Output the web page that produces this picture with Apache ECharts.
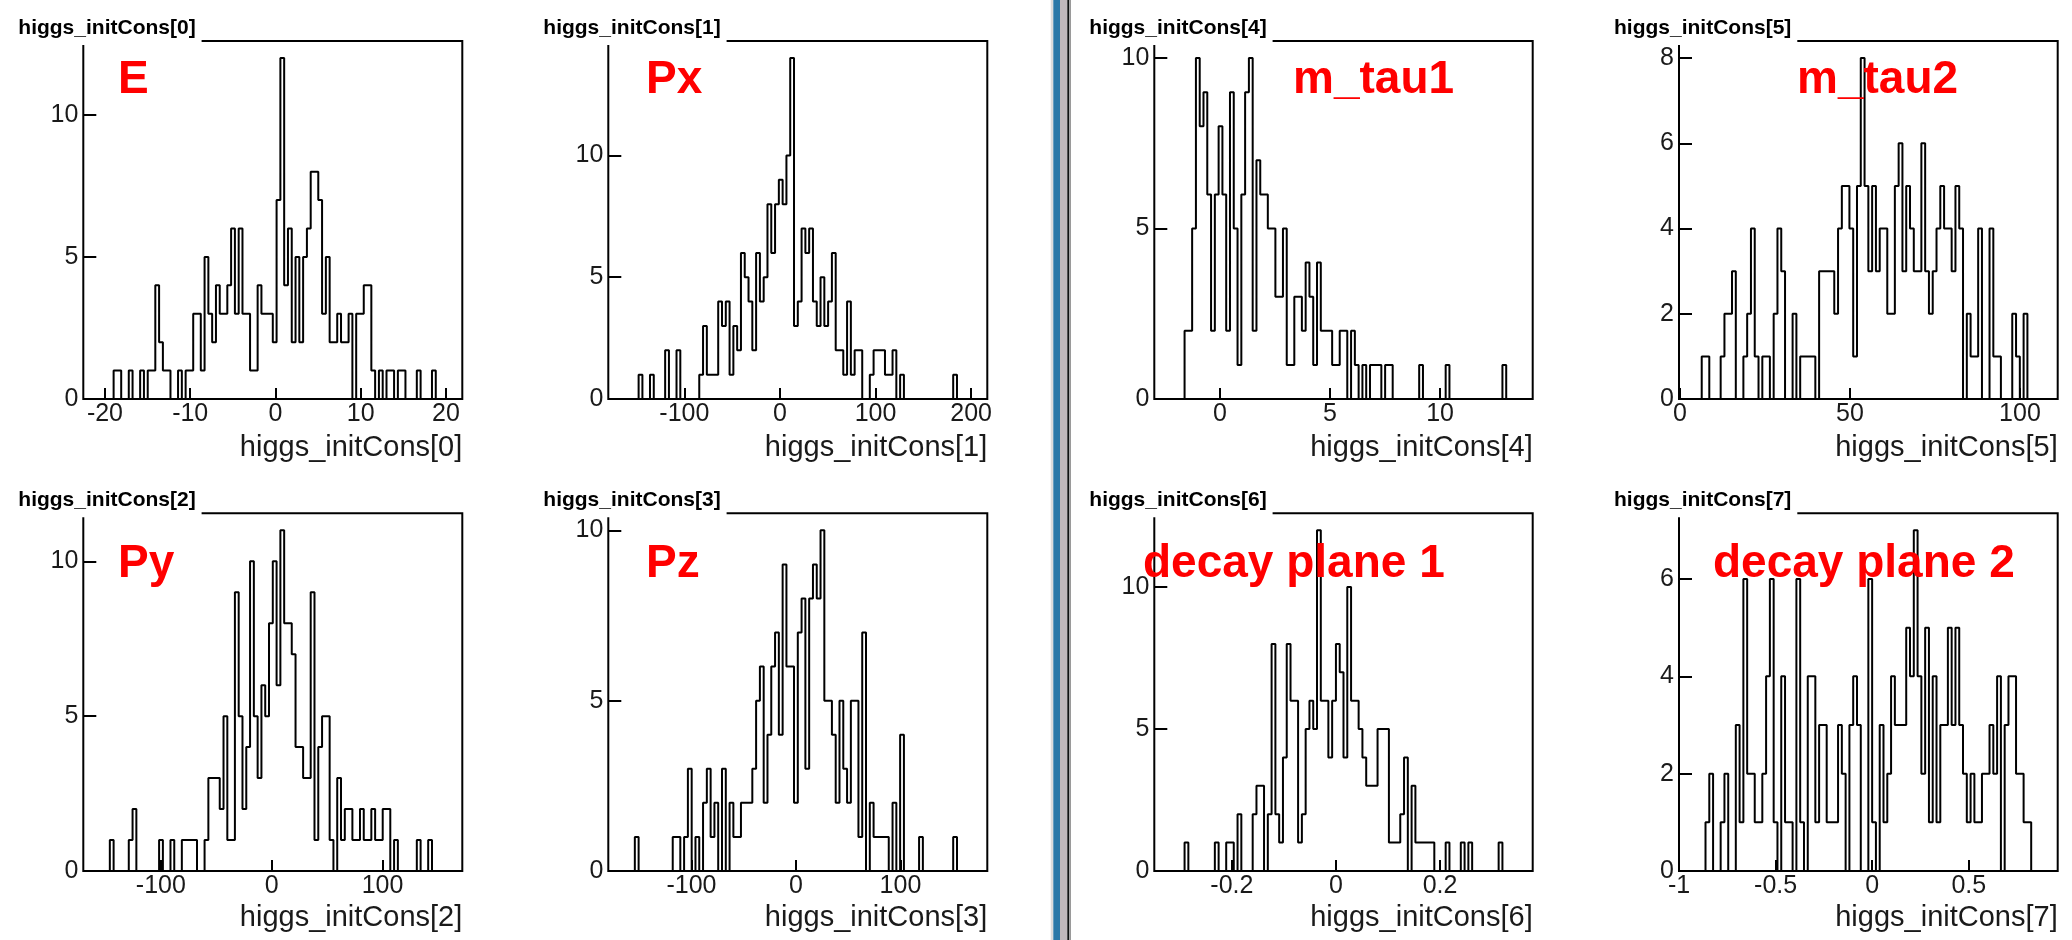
<!DOCTYPE html>
<html><head><meta charset="utf-8">
<script src="https://cdn.jsdelivr.net/npm/echarts@6/dist/echarts.min.js"></script>
<style>html,body{margin:0;padding:0;background:#fff}#c{width:2072px;height:940px}</style>
</head><body><div id="c"></div>
<script>
// ---- data: 100-bin histogram counts ----
const E_counts  = [0,0,0,0,0,0,0,0,1,1, 0,0,1,0,0,1,0,1,1,4, 2,1,1,0,0,1,0,1,1,3, 3,1,5,3,2,4,3,3,4,6, 3,6,3,3,1,1,4,3,3,3, 2,7,12,4,6,2,5,2,5,6, 8,8,7,3,5,2,2,3,2,2, 3,0,3,3,4,4,1,0,1,0, 1,1,0,1,1,0,0,0,1,0, 0,0,1,0,0,0,0,0,0,0];
const Px_counts = [0,0,0,0,0,0,0,0,1,0, 0,1,0,0,0,2,0,0,2,0, 0,0,0,0,1,3,1,1,1,4, 3,4,1,3,2,6,5,4,2,6, 4,5,8,6,8,9,8,10,14,3, 4,7,6,7,4,3,5,3,4,6, 2,2,1,4,1,2,2,0,0,1, 2,2,2,1,1,2,0,1,0,0, 0,0,0,0,0,0,0,0,0,0, 0,1,0,0,0,0,0,0,0,0];
const Mtau1_counts = [0,0,0,0,0,0,0,0,2,2, 5,10,8,9,6,2,6,8,6,2, 9,5,1,6,9,10,2,7,6,6, 5,5,3,3,5,1,1,3,3,2, 4,3,1,4,2,2,2,1,1,2, 2,0,2,1,0,1,0,1,1,1, 0,1,1,0,0,0,0,0,0,0, 1,0,0,0,0,0,0,1,0,0, 0,0,0,0,0,0,0,0,0,0, 0,0,1,0,0,0,0,0,0,0];
const Mtau2_counts = [0,0,0,0,0,0,1,1,0,0, 0,1,2,2,3,0,0,1,2,4, 1,0,1,1,0,2,4,3,0,0, 2,0,1,1,1,1,0,3,3,3, 3,2,4,5,5,4,1,5,8,5, 3,5,3,4,4,2,2,5,6,3, 5,4,3,3,6,3,2,3,4,5, 4,4,3,5,4,0,2,1,1,4, 0,0,4,1,1,0,0,0,2,1, 0,2,0,0,0,0,0,0,0,0];
const Py_counts = [0,0,0,0,0,0,0,1,0,0, 0,0,1,2,0,0,0,0,0,0, 1,0,0,1,0,0,1,1,1,1, 0,0,1,3,3,3,2,5,1,1, 9,5,2,4,10,5,3,6,5,8, 10,6,11,8,8,7,4,4,3,3, 9,1,4,5,5,1,0,3,1,2, 2,1,1,2,1,1,2,1,1,2, 2,0,1,0,0,0,0,0,1,0, 0,1,0,0,0,0,0,0,0,0];
const Pz_counts = [0,0,0,0,0,0,0,1,0,0, 0,0,0,0,0,0,0,1,1,0, 1,3,0,1,0,2,3,1,2,0, 3,0,2,1,1,2,2,2,3,5, 6,2,4,6,7,4,9,6,6,2, 7,8,3,8,9,8,10,5,5,4, 2,5,3,2,5,5,1,7,0,2, 1,1,1,1,0,2,0,4,0,0, 0,0,1,0,0,0,0,0,0,0, 0,1,0,0,0,0,0,0,0,0];
const DP1_counts = [0,0,0,0,0,0,0,0,1,0, 0,0,0,0,0,0,1,0,0,1, 1,0,2,0,0,0,2,3,3,0, 2,8,2,1,4,8,6,6,1,2, 5,6,5,12,6,6,4,6,8,7, 4,10,6,6,5,4,3,3,3,5, 5,5,1,1,1,2,4,0,3,1, 1,1,1,1,0,0,0,1,0,0, 0,1,0,1,0,0,0,0,0,0, 0,1,0,0,0,0,0,0,0,0];
const DP2_counts = [0,0,0,0,0,0,0,1,2,0, 0,1,2,0,0,3,1,6,2,2, 1,1,2,4,6,1,0,4,1,1, 0,6,1,0,4,4,1,3,3,1, 1,1,3,2,0,3,4,3,0,0, 6,1,0,3,1,2,4,3,3,3, 5,4,7,4,2,5,1,4,1,3, 3,5,3,5,3,2,1,2,1,1, 2,2,3,2,4,0,3,4,4,2, 2,1,1,0,0,0,0,0,0,0];

// axis ranges (frame limits)
const E_range = [-22.54, 21.92];
const Px_range = [-179.6, 216.9];
const Mtau1_range = [-2.985, 14.21];
const Mtau2_range = [-0.3, 111.1];
const Py_range = [-170, 172];
const Pz_range = [-179.6, 183.1];
const DP1_range = [-0.349, 0.378];
const DP2_range = [-1.0, 0.96];

// tick labels
const E_xticks = [-20,-10,0,10,20];
const Px_xticks = [-100,0,100,200];
const Mtau1_xticks = [0,5,10];
const Mtau2_xticks = [0,50,100];
const Py_xticks = [-100,0,100];
const Pz_xticks = [-100,0,100];
const DP1_xticks = [-0.2,0,0.2];
const DP2_xticks = [-1,-0.5,0,0.5];
const yticks5 = [0,5,10];
const Mtau2_yticks = [0,2,4,6,8];
const DP2_yticks = [0,2,4,6];

const histNames = ['higgs_initCons[0]','higgs_initCons[1]','higgs_initCons[4]','higgs_initCons[5]',
                   'higgs_initCons[2]','higgs_initCons[3]','higgs_initCons[6]','higgs_initCons[7]'];
const redLabels = ['E','Px','m_tau1','m_tau2','Py','Pz','decay plane 1','decay plane 2'];

const panels = [
  {counts:E_counts, range:E_range, xt:E_xticks, yt:yticks5},
  {counts:Px_counts, range:Px_range, xt:Px_xticks, yt:yticks5},
  {counts:Mtau1_counts, range:Mtau1_range, xt:Mtau1_xticks, yt:yticks5},
  {counts:Mtau2_counts, range:Mtau2_range, xt:Mtau2_xticks, yt:Mtau2_yticks},
  {counts:Py_counts, range:Py_range, xt:Py_xticks, yt:yticks5},
  {counts:Pz_counts, range:Pz_range, xt:Pz_xticks, yt:yticks5},
  {counts:DP1_counts, range:DP1_range, xt:DP1_xticks, yt:yticks5},
  {counts:DP2_counts, range:DP2_range, xt:DP2_xticks, yt:DP2_yticks}
];

// ---- layout ----
const FONT = '"Liberation Sans", Arial, Helvetica, sans-serif';
const colLeft = [83.3, 608.3, 1154.3, 1679];
const colW = [379, 379, 378.4, 378.7];
const rowTop = [41, 513.3];
const rowH = [358, 357.7];
const redX = [118, 646, 1293, 1797, 118, 646, 1143, 1713];

const grids=[], xAxes=[], yAxes=[], series=[], graphics=[];
panels.forEach((p,i)=>{
  const col=i%4, row=Math.floor(i/4);
  const left=colLeft[col], top=rowTop[row], w=colW[col], h=rowH[row];
  grids.push({left:left, top:top, width:w, height:h, show:true, borderColor:'#000', borderWidth:2, backgroundColor:'rgba(0,0,0,0)'});
  const n=p.counts.length, bw=(p.range[1]-p.range[0])/n;
  const data=[[p.range[0],0]];
  p.counts.forEach((c,k)=>data.push([p.range[0]+k*bw, c]));
  data.push([p.range[1], p.counts[n-1]]);
  const ymax=Math.max(...p.counts)*1.05;
  xAxes.push({type:'value', gridIndex:i, min:p.range[0], max:p.range[1], position:'bottom',
    axisLine:{show:false, onZero:false}, splitLine:{show:false},
    axisTick:{show:true, inside:true, length:11, customValues:p.xt, lineStyle:{color:'#000', width:2}},
    axisLabel:{show:true, customValues:p.xt, fontSize:25, color:'#1a1a1a', margin:3, fontFamily:FONT}});
  yAxes.push({type:'value', gridIndex:i, min:0, max:ymax, position:'left',
    axisLine:{show:false, onZero:false}, splitLine:{show:false},
    axisTick:{show:true, inside:true, length:13, customValues:p.yt, lineStyle:{color:'#000', width:2}},
    axisLabel:{show:true, customValues:p.yt, fontSize:25, color:'#1a1a1a', margin:5, fontFamily:FONT}});
  series.push({type:'line', xAxisIndex:i, yAxisIndex:i, step:'end', data:data, symbol:'none', showSymbol:false,
    lineStyle:{color:'#000', width:2}, clip:true, animation:false, z:3});

  // title box (covers the frame's top-left corner) and title
  graphics.push({type:'rect', z:100, shape:{x:left-70, y:top-26, width:188.3, height:30}, style:{fill:'#fff'}});
  graphics.push({type:'text', z:101, x:left-65, y:(row===0?28.7:500.4),
    style:{text:histNames[i], font:'bold 21px '+FONT, fill:'#000', align:'left', verticalAlign:'middle'}});
  // x axis title
  graphics.push({type:'text', z:101, x:left+w, y:(row===0?448.3:918.3),
    style:{text:histNames[i], font:'29px '+FONT, fill:'#1a1a1a', align:'right', verticalAlign:'middle'}});
  // red label
  graphics.push({type:'text', z:101, x:redX[i], y:(row===0?80.8:564.1),
    style:{text:redLabels[i], font:'bold 46px '+FONT, fill:'#ff0000', align:'left', verticalAlign:'middle'}});
});

// central separator
const sep = [[1050.7,2.6,'#dcdcdc'],[1053.3,6.7,'#2a78a8'],[1060,7.3,'#c0b8bb'],[1067.3,2,'#111'],[1069.3,1.7,'#9a9a9a']];
sep.forEach(s=>graphics.push({type:'rect', z:90, shape:{x:s[0], y:0, width:s[1], height:940}, style:{fill:s[2]}}));

const chart = echarts.init(document.getElementById('c'), null, {renderer:'canvas', width:2072, height:940});
chart.setOption({
  animation:false,
  backgroundColor:'#fff',
  grid:grids, xAxis:xAxes, yAxis:yAxes, series:series,
  graphic:{elements:graphics}
});
</script>
</body></html>
